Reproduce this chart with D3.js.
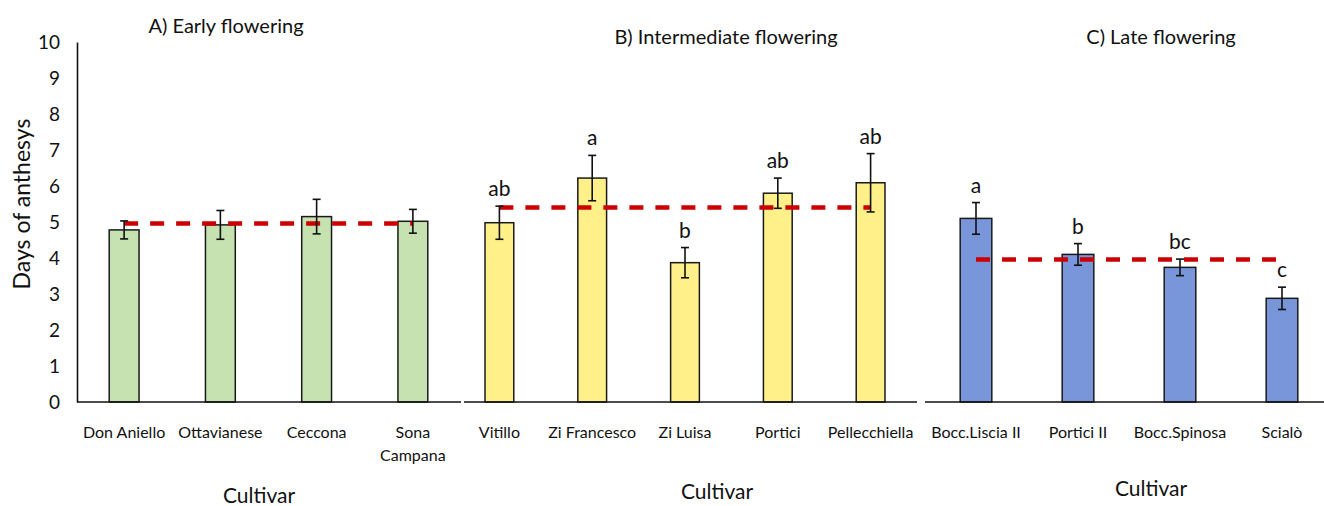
<!DOCTYPE html>
<html>
<head>
<meta charset="utf-8">
<script src="https://cdn.jsdelivr.net/npm/d3@7"></script>
<style>
  html, body { margin: 0; padding: 0; background: #fff; }
  svg { display: block; }
  text { font-family: Lato, "Noto Sans", sans-serif; fill: #111; }
</style>
</head>
<body>
<svg id="chart" width="1324" height="506"></svg>
<script>
// ---- data: days of anthesis per cultivar, grouped by flowering class ----
const earlyCultivars = ["Don Aniello", "Ottavianese", "Ceccona", "Sona\nCampana"];
const earlyMeans     = [4.78, 4.92, 5.15, 5.02];
const earlyErrors    = [0.25, 0.40, 0.48, 0.33];
const earlyLetters   = ["", "", "", ""];
const earlyGroupMean = 4.96;

const interCultivars = ["Vitillo", "Zi Francesco", "Zi Luisa", "Portici", "Pellecchiella"];
const interMeans     = [4.98, 6.22, 3.87, 5.80, 6.09];
const interErrors    = [0.46, 0.63, 0.42, 0.42, 0.81];
const interLetters   = ["ab", "a", "b", "ab", "ab"];
const interGroupMean = 5.40;

const lateCultivars  = ["Bocc.Liscia II", "Portici II", "Bocc.Spinosa", "Scialò"];
const lateMeans      = [5.10, 4.10, 3.74, 2.88];
const lateErrors     = [0.44, 0.30, 0.23, 0.31];
const lateLetters    = ["a", "b", "bc", "c"];
const lateGroupMean  = 3.96;

const panelTitles = ["A) Early flowering", "B) Intermediate flowering", "C) Late flowering"];
const yTicks = [0, 1, 2, 3, 4, 5, 6, 7, 8, 9, 10];
const xTitle = "Cultivar";
const yTitle = "Days of anthesys";

// ---- layout ----
const svg = d3.select("#chart");
const y = d3.scaleLinear().domain([0, 10]).range([402, 42]);

const panels = [
  { cats: earlyCultivars, means: earlyMeans, errs: earlyErrors, letters: earlyLetters,
    groupMean: earlyGroupMean, title: panelTitles[0], fill: "#c6e2b0",
    range: [76, 461], line: [77, 461], titleX: 226, titleY: 33, xTitleX: 259, xTitleY: 503 },
  { cats: interCultivars, means: interMeans, errs: interErrors, letters: interLetters,
    groupMean: interGroupMean, title: panelTitles[1], fill: "#fff08a",
    range: [453, 917], line: [464, 917], titleX: 726, titleY: 44, xTitleX: 717, xTitleY: 499 },
  { cats: lateCultivars, means: lateMeans, errs: lateErrors, letters: lateLetters,
    groupMean: lateGroupMean, title: panelTitles[2], fill: "#7896d9",
    range: [925, 1333], line: [925, 1324], titleX: 1161, titleY: 44, xTitleX: 1151, xTitleY: 496 }
];

// y axis (shared by all panels)
const yAxis = d3.axisLeft(y).tickValues(yTicks).tickSize(0).tickPadding(17).tickFormat(d3.format("d"));
const yg = svg.append("g").attr("transform", "translate(77,0)").call(yAxis);
yg.select(".domain").attr("stroke", "#111").attr("stroke-width", 1.6);
yg.selectAll(".tick text").attr("font-size", 19).attr("font-family", "Lato, sans-serif").attr("fill", "#111").attr("dy", "0.35em");

svg.append("text")
  .attr("transform", "translate(21,204) rotate(-90)")
  .attr("text-anchor", "middle")
  .attr("dominant-baseline", "central")
  .attr("font-family", "'Open Sans', sans-serif")
  .attr("font-size", 23)
  .text(yTitle);

panels.forEach(p => {
  const x = d3.scaleBand().domain(p.cats).range(p.range).paddingInner(0.69).paddingOuter(0.345);
  const g = svg.append("g");
  const cx = d => x(d) + x.bandwidth() / 2;

  // bars
  g.selectAll("rect").data(p.cats).join("rect")
    .attr("x", d => x(d))
    .attr("y", (d, i) => y(p.means[i]))
    .attr("width", x.bandwidth())
    .attr("height", (d, i) => y(0) - y(p.means[i]))
    .attr("fill", p.fill)
    .attr("stroke", "#1a1a1a")
    .attr("stroke-width", 1.5);

  // group mean (dashed)
  g.append("line")
    .attr("x1", cx(p.cats[0])).attr("x2", cx(p.cats[p.cats.length - 1]))
    .attr("y1", y(p.groupMean)).attr("y2", y(p.groupMean))
    .attr("stroke", "#cc0000").attr("stroke-width", 4.5)
    .attr("stroke-dasharray", "14 12");

  // error bars
  const eb = g.selectAll("g.err").data(p.cats).join("g").attr("class", "err");
  eb.append("line")
    .attr("x1", cx).attr("x2", cx)
    .attr("y1", (d, i) => y(p.means[i] + p.errs[i]))
    .attr("y2", (d, i) => y(p.means[i] - p.errs[i]));
  eb.append("line")
    .attr("x1", d => cx(d) - 4).attr("x2", d => cx(d) + 4)
    .attr("y1", (d, i) => y(p.means[i] + p.errs[i]))
    .attr("y2", (d, i) => y(p.means[i] + p.errs[i]));
  eb.append("line")
    .attr("x1", d => cx(d) - 4).attr("x2", d => cx(d) + 4)
    .attr("y1", (d, i) => y(p.means[i] - p.errs[i]))
    .attr("y2", (d, i) => y(p.means[i] - p.errs[i]));
  eb.selectAll("line").attr("stroke", "#111").attr("stroke-width", 1.6);

  // significance letters
  g.selectAll("text.letter").data(p.cats).join("text").attr("class", "letter")
    .attr("x", cx)
    .attr("y", (d, i) => y(p.means[i] + p.errs[i]) - 10)
    .attr("text-anchor", "middle")
    .attr("font-size", 21)
    .text((d, i) => p.letters[i]);

  // baseline
  g.append("line")
    .attr("x1", p.line[0]).attr("x2", p.line[1])
    .attr("y1", y(0)).attr("y2", y(0))
    .attr("stroke", "#111").attr("stroke-width", 1.6);

  // category labels (may wrap onto two lines)
  const lbl = g.selectAll("text.cat").data(p.cats).join("text").attr("class", "cat")
    .attr("x", cx).attr("y", 438)
    .attr("text-anchor", "middle")
    .attr("font-size", 16);
  lbl.each(function (d) {
    d.split("\n").forEach((part, k) => {
      d3.select(this).append("tspan").attr("x", cx(d)).attr("dy", k === 0 ? 0 : 23).text(part);
    });
  });

  // panel title and axis title
  g.append("text").attr("x", p.titleX).attr("y", p.titleY)
    .attr("text-anchor", "middle").attr("font-size", 20).text(p.title);
  g.append("text").attr("x", p.xTitleX).attr("y", p.xTitleY)
    .attr("text-anchor", "middle").attr("font-size", 21).text(xTitle);
});
</script>
</body>
</html>
